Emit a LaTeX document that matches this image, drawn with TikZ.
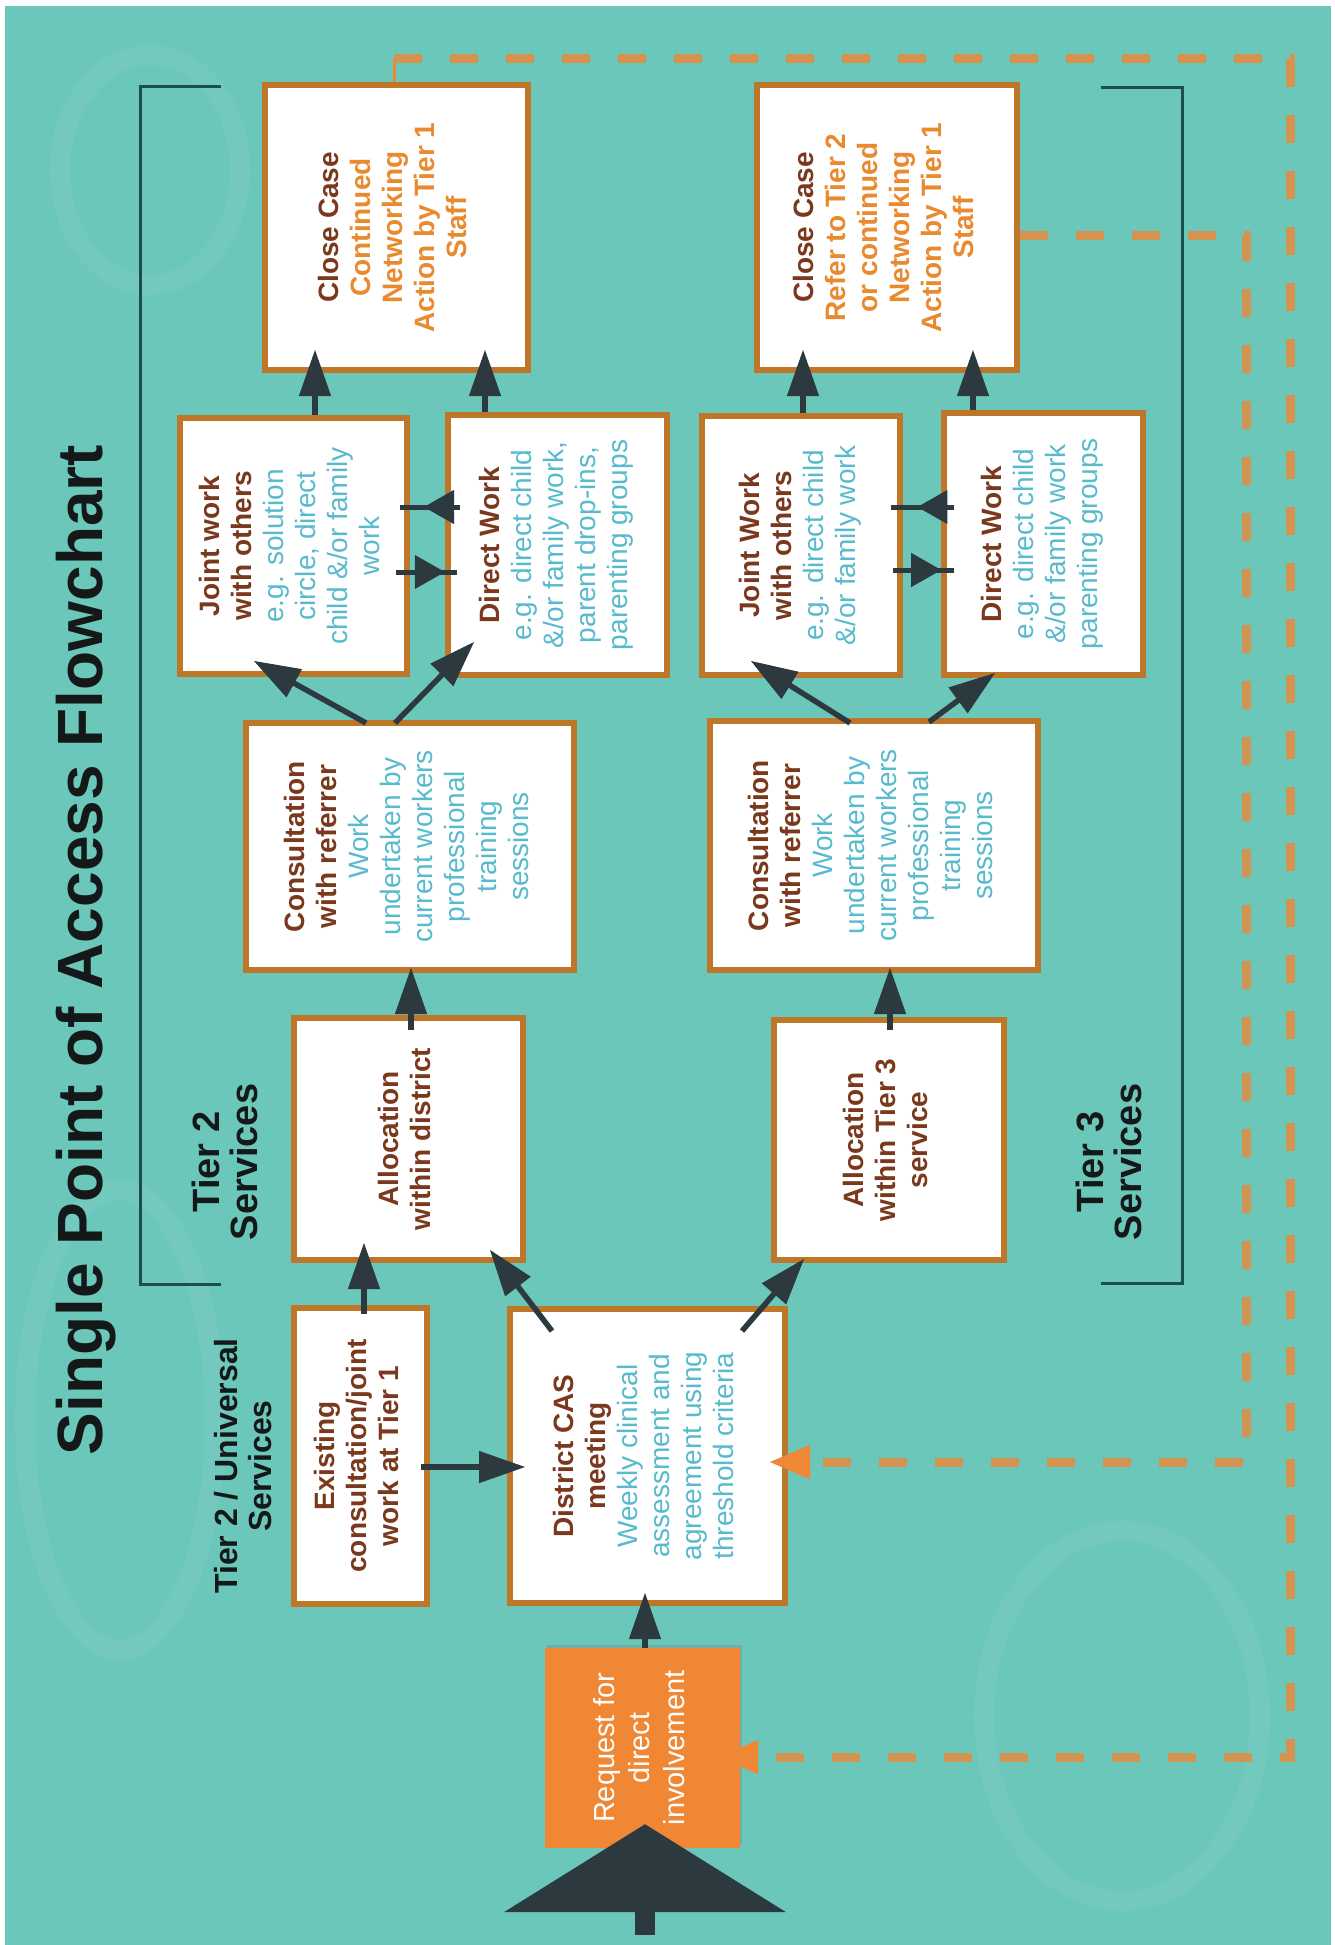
\documentclass[tikz,border=0pt]{standalone}
\usepackage{fontspec}
\setmainfont{Liberation Sans}
\usepackage{graphicx}
\usetikzlibrary{arrows.meta,shadows,calc,decorations.markings}

\definecolor{bgteal}{RGB}{108,199,187}
\definecolor{boxedge}{RGB}{190,118,40}
\definecolor{headbrown}{RGB}{122,56,28}
\definecolor{noteteal}{RGB}{88,186,205}
\definecolor{noteorange}{RGB}{233,138,47}
\definecolor{reqorange}{RGB}{239,135,52}
\definecolor{arrowdark}{RGB}{44,58,63}
\definecolor{bracketline}{RGB}{30,78,76}
\definecolor{loopdash}{RGB}{210,148,80}
\definecolor{titleblack}{RGB}{20,24,24}

% text turned to read from bottom to top, one centred line per row
\newcommand\turned[1]{\rotatebox{90}{\begin{tabular}{@{}c@{}}#1\end{tabular}}}
\newcommand\boxhead[1]{\textcolor{headbrown}{\bfseries #1}}
\newcommand\boxnote[1]{\textcolor{noteteal}{#1}}
\newcommand\boxonote[1]{\textcolor{noteorange}{\bfseries #1}}

\begin{document}
\begin{tikzpicture}[x=1pt, y=-1pt,
  flowbox/.style={draw=boxedge, line width=6pt, fill=white, inner sep=0pt,
    font=\fontsize{28}{32}\selectfont,
    drop shadow={shadow xshift=2pt, shadow yshift=2pt, opacity=0.35}},
  reqbox/.style={fill=reqorange, inner sep=0pt, text=white,
    font=\fontsize{29}{35}\selectfont,
    drop shadow={shadow xshift=2pt, shadow yshift=3pt, opacity=0.35}},
  tierlabel/.style={inner sep=0pt, text=titleblack},
  flow/.style={draw=arrowdark, line width=5.5pt,
    -{Triangle[length=46pt,width=32pt,line width=1pt]}},
  pairline/.style={draw=arrowdark, line width=5pt},
  midtip/.style={postaction={decorate}, decoration={markings,
    mark=at position #1 with {\arrow{Triangle[length=30pt,width=34pt,line width=1pt]}}}},
  loopline/.style={draw=loopdash, line width=9pt, dash pattern=on 28pt off 28pt,
    -{Triangle[length=40pt,width=34pt,line width=1pt,color=reqorange]}},
  looptick/.style={draw=reqorange, line width=3pt},
  bracket/.style={draw=bracketline, line width=3pt},
  entryarrow/.style={draw=arrowdark, line width=20pt,
    -{Triangle[length=88pt,width=282pt,line width=1pt]}}
]

% page and background
\fill[white] (0,0) rectangle (1334,1945);
\fill[bgteal] (5,6) rectangle (1331,1945);
\useasboundingbox (0,0) rectangle (1334,1945);

% faint background swirls
\begin{scope}[draw=white, draw opacity=0.05, line width=20pt]
  \draw (1122,1716) ellipse [x radius=138, y radius=185];
  \draw (150,170) ellipse [x radius=90, y radius=115];
  \draw (120,1420) ellipse [x radius=95, y radius=230];
\end{scope}

% title
\node[tierlabel, font=\fontsize{64}{70}\selectfont\bfseries] (title) at (86,950)
  {\rotatebox{90}{Single Point of Access Flowchart}};

% service brackets and their labels
\draw[bracket] (221,87) -- (140,87) -- (140,1284) -- (221,1284);
\draw[bracket] (1101,88) -- (1182,88) -- (1182,1283) -- (1101,1283);
\node[tierlabel, font=\fontsize{38}{36}\selectfont\bfseries] (tiertwo) at (230,1162)
  {\turned{Tier 2\\Services}};
\node[tierlabel, font=\fontsize{38}{36}\selectfont\bfseries] (tierthree) at (1114,1162)
  {\turned{Tier 3\\Services}};
\node[tierlabel, font=\fontsize{32}{34}\selectfont\bfseries] (tieruniv) at (248,1466)
  {\turned{Tier 2 / Universal\\Services}};

% boxes
\node[reqbox, minimum width=195pt, minimum height=200pt] (req) at (642.5,1748)
  {\turned{Request for\\direct\\involvement}};
\node[flowbox, minimum width=275pt, minimum height=294pt] (cas) at (647.5,1456)
  {\turned{\boxhead{District CAS}\\\boxhead{meeting}\\\boxnote{Weekly clinical}\\
   \boxnote{assessment and}\\\boxnote{agreement using}\\\boxnote{threshold criteria}}};
\node[flowbox, minimum width=133pt, minimum height=296pt] (ex) at (360.5,1456)
  {\turned{\boxhead{Existing}\\\boxhead{consultation/joint}\\\boxhead{work at Tier 1}}};
\node[flowbox, minimum width=229pt, minimum height=242pt] (ad) at (408.5,1139)
  {\turned{\boxhead{Allocation}\\\boxhead{within district}}};
\node[flowbox, minimum width=230pt, minimum height=240pt] (at3) at (889,1140)
  {\turned{\boxhead{Allocation}\\\boxhead{within Tier 3}\\\boxhead{service}}};
\node[flowbox, minimum width=328pt, minimum height=247pt] (ct2) at (410,846.5)
  {\turned{\boxhead{Consultation}\\\boxhead{with referrer}\\\boxnote{Work}\\
   \boxnote{undertaken by}\\\boxnote{current workers}\\\boxnote{professional}\\
   \boxnote{training}\\\boxnote{sessions}}};
\node[flowbox, minimum width=328pt, minimum height=249pt] (ct3) at (874,845.5)
  {\turned{\boxhead{Consultation}\\\boxhead{with referrer}\\\boxnote{Work}\\
   \boxnote{undertaken by}\\\boxnote{current workers}\\\boxnote{professional}\\
   \boxnote{training}\\\boxnote{sessions}}};
\node[flowbox, minimum width=227pt, minimum height=256pt] (jw2) at (293.5,546)
  {\turned{\boxhead{Joint work}\\\boxhead{with others}\\\boxnote{e.g. solution}\\
   \boxnote{circle, direct}\\\boxnote{child \&/or family}\\\boxnote{work}}};
\node[flowbox, minimum width=219pt, minimum height=260pt] (dw2) at (557.5,545)
  {\turned{\boxhead{Direct Work}\\\boxnote{e.g. direct child}\\\boxnote{\&/or family work,}\\
   \boxnote{parent drop-ins,}\\\boxnote{parenting groups}}};
\node[flowbox, minimum width=198pt, minimum height=259pt] (jw3) at (801,545.5)
  {\turned{\boxhead{Joint Work}\\\boxhead{with others}\\\boxnote{e.g. direct child}\\
   \boxnote{\&/or family work}}};
\node[flowbox, minimum width=199pt, minimum height=262pt] (dw3) at (1043.5,544)
  {\turned{\boxhead{Direct Work}\\\boxnote{e.g. direct child}\\\boxnote{\&/or family work}\\
   \boxnote{parenting groups}}};
\node[flowbox, minimum width=263pt, minimum height=285pt] (cc1) at (396.5,227.5)
  {\turned{\boxhead{Close Case}\\\boxonote{Continued}\\\boxonote{Networking}\\
   \boxonote{Action by Tier 1}\\\boxonote{Staff}}};
\node[flowbox, minimum width=260pt, minimum height=285pt] (cc2) at (887,227.5)
  {\turned{\boxhead{Close Case}\\\boxonote{Refer to Tier 2}\\\boxonote{or continued}\\
   \boxonote{Networking}\\\boxonote{Action by Tier 1}\\\boxonote{Staff}}};

% feedback loops back to the start
\coordinate (topA) at (394,59);
\coordinate (topB) at (1290,59);
\coordinate (botB) at (1290,1757);
\coordinate (midA) at (1246,235);
\coordinate (midB) at (1246,1462);
\draw[looptick] ($(cc1.north)+(-2.5,0)$) -- (topA);
\draw[loopline] (topA) -- (topB) -- (botB) -- ($(req.east)+(-22,9)$);
\draw[loopline] ($(cc2.east)+(0,7.5)$) -- (midA) -- (midB) -- ($(cas.east)+(-18,6)$);

% entry arrow
\coordinate (entry) at (645,1935);
\draw[entryarrow] (entry) -- ($(req.south)+(2.5,-24)$);

% main flow
\draw[flow] ($(req.north)+(2.5,0)$) -- ($(cas.south)+(-2.5,-13)$);
\draw[flow] ($(ex.east)+(-9,11)$) -- ($(cas.west)+(18,11)$);
\draw[flow] ($(ex.north)+(3.5,9)$) -- ($(ad.south)+(-44.5,-20)$);
\draw[flow] ($(cas.north)+(-95.5,25)$) -- ($(ad.south)+(81.5,-13)$);
\draw[flow] ($(cas.north)+(94.5,25)$) -- ($(at3.south)+(-85,-4)$);
\draw[flow] ($(ad.north)+(2.5,15)$) -- ($(ct2.south)+(1,-5)$);
\draw[flow] ($(at3.north)+(1,13)$) -- ($(ct3.south)+(16,-5)$);
\draw[flow] ($(ct2.north)+(-44,3)$) -- ($(jw2.south)+(-39.5,-16)$);
\draw[flow] ($(ct2.north)+(-15,3)$) -- ($(dw2.south)+(-83.5,-36)$);
\draw[flow] ($(ct3.north)+(-24,5)$) -- ($(jw3.south)+(-50,-17)$);
\draw[flow] ($(ct3.north)+(55,4)$) -- ($(dw3.south)+(-48.5,-5)$);
\draw[flow] ($(jw2.north)+(21.5,0)$) -- ($(cc1.south)+(-81.5,-23)$);
\draw[flow] ($(dw2.north)+(-72.5,0)$) -- ($(cc1.south)+(88.5,-23)$);
\draw[flow] ($(jw3.north)+(2,0)$) -- ($(cc2.south)+(-84,-23)$);
\draw[flow] ($(dw3.north)+(-70.5,0)$) -- ($(cc2.south)+(86,-23)$);

% two-way links between joint and direct work
\draw[pairline, midtip=0.6] ($(dw2.west)+(15,-38)$) -- ($(jw2.east)+(-10,-39)$);
\draw[pairline, midtip=0.8] ($(jw2.east)+(-14,26)$) -- ($(dw2.west)+(12,27)$);
\draw[pairline, midtip=0.58] ($(dw3.west)+(13,-37)$) -- ($(jw3.east)+(-12,-38.5)$);
\draw[pairline, midtip=0.79] ($(jw3.east)+(-10,24.5)$) -- ($(dw3.west)+(13,26)$);

\end{tikzpicture}
\end{document}
